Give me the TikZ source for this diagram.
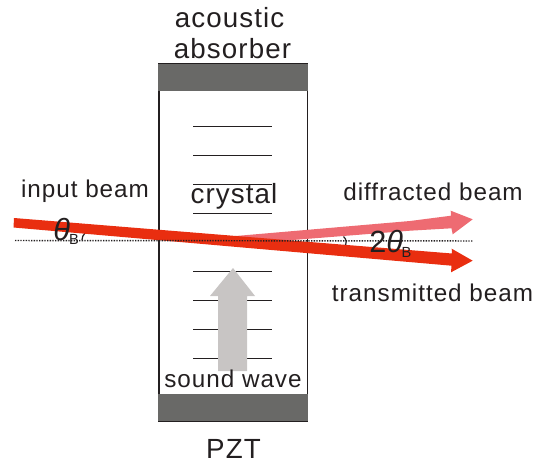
\documentclass[tikz,border=0pt]{standalone}
\usepackage{fontspec}
\setmainfont{Liberation Sans}
\usetikzlibrary{arrows.meta}
\definecolor{ink}{HTML}{231F20}
\definecolor{pztgray}{HTML}{696967}
\definecolor{wavegray}{HTML}{C8C5C4}
\definecolor{beamred}{HTML}{E92E10}
\definecolor{beampink}{HTML}{EE6B72}
\tikzset{
  x=0.75pt,y=-0.75pt,
  lbl/.style={inner sep=0pt,text=ink,font=\fontsize{18.2}{20}\selectfont\addfontfeatures{LetterSpace=4}},
  lblbig/.style={inner sep=0pt,text=ink,font=\fontsize{20.8}{24}\selectfont\addfontfeatures{LetterSpace=4}},
  sym/.style={inner sep=0pt,text=ink,font=\fontsize{23}{26}\selectfont},
  subB/.style={inner sep=0pt,text=ink,font=\fontsize{11}{13}\selectfont},
  fringe/.style={draw=ink,line width=0.75pt},
  absorber/.style={fill=pztgray,draw=none},
  wall/.style={draw=ink,line width=1pt},
  axis/.style={draw=ink,line width=1.1pt,dash pattern=on 1pt off 1pt},
  angmark/.style={draw=ink,line width=0.9pt}
}
\begin{document}
\begin{tikzpicture}
\useasboundingbox (0,0) rectangle (534,463);
% crystal box
\draw[wall] (159,64) rectangle (307.5,421);
\fill[absorber] (158,64) rectangle (308,91);
\fill[absorber] (158,394) rectangle (308,421);
% fringes
\foreach \yy in {126.5,155.5,184.5,213.5,241.5,271.5,300.5,329.5,358.5}
  \draw[fringe] (193,\yy) -- (272,\yy);
% sound wave arrow
\fill[wavegray] (233,268) -- (255,296) -- (247,296) -- (247,371) -- (218,371) -- (218,296) -- (210,296) -- cycle;
% angle marks
\draw[angmark] (343.5,236.5) .. controls (347,239.5) and (347,244) .. (344,247);
\draw[angmark] (85,233) .. controls (83,235) and (82,237.5) .. (82,240);
% axis
\coordinate (axisL) at (15,240.5);
\coordinate (axisR) at (473,241);
% beams
\coordinate (hit) at (230,236.5);
\coordinate (diffTip) at (472.7,219.3);
\coordinate (tranTip) at (472.7,260.7);
\fill[beampink] (hit) -- (410,221) -- (451,215.7) -- (450.7,210.7) -- (diffTip) -- (452.7,234.3) -- (451.5,228.3) -- (410,230.7) -- (230,245) -- cycle;
\fill[beamred] (14,218) -- (452,253.5) -- (451.7,248.7) -- (tranTip) -- (451,272.3) -- (451.5,265.7) -- (13.5,227.5) -- cycle;
\draw[axis] (axisL) -- (axisR);
% labels
\node[lblbig] (absA) at (229.5,18) {acoustic};
\node[lblbig] (absB) at (232.5,49) {absorber};
\node[lbl] (inp) at (85,191.5) {input beam};
\node[lblbig] (cry) at (234,196.5) {crystal};
\node[lbl] (dif) at (433,192) {diffracted beam};
\node[lbl] (tra) at (432.5,292.5) {transmitted beam};
\node[lbl] (snd) at (233,379) {sound wave};
\node[lblbig] (pzt) at (233.5,449) {PZT};
\node[sym,anchor=west] (th1) at (53,229.5) {\textit{θ}};
\node[subB] (b1) at (74,239.5) {B};
\node[sym,anchor=west] (th2) at (369,241.5) {2\textit{θ}};
\node[subB] (b2) at (406.5,252) {B};
\end{tikzpicture}
\end{document}
